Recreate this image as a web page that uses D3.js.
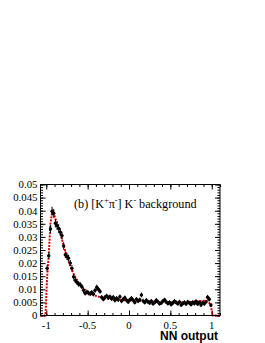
<!DOCTYPE html>
<html>
<head>
<meta charset="utf-8">
<script src="https://cdn.jsdelivr.net/npm/d3@7"></script>
<style>
  body { margin: 0; background: #fff; }
  svg { display: block; }
</style>
</head>
<body>
<div id="chart"></div>
<script>
// NN output histogram, bin width 0.02 from -1 to 1
const binLow = -1, binWidth = 0.02;

const dataValues = [
  0.0180, 0.0228, 0.0330, 0.0398, 0.0390, 0.0352, 0.0343, 0.0332, 0.0318, 0.0305,
  0.0265, 0.0232, 0.0225, 0.0219, 0.0200, 0.0180, 0.0148, 0.0135, 0.0127, 0.0120,
  0.0118, 0.0110, 0.0096, 0.0085, 0.0090, 0.0086, 0.0083, 0.0088, 0.0082, 0.0096,
  0.0108, 0.0100, 0.0092, 0.0070, 0.0062, 0.0070, 0.0075, 0.0068, 0.0072, 0.0064,
  0.0070, 0.0058, 0.0066, 0.0060, 0.0072, 0.0055, 0.0062, 0.0068, 0.0058, 0.0052,
  0.0060, 0.0066, 0.0058, 0.0050, 0.0062, 0.0055, 0.0060, 0.0078, 0.0056, 0.0050,
  0.0058, 0.0052, 0.0048, 0.0055, 0.0045, 0.0050, 0.0058, 0.0052, 0.0045, 0.0048,
  0.0055, 0.0060, 0.0052, 0.0046, 0.0050, 0.0042, 0.0048, 0.0055, 0.0050, 0.0045,
  0.0052, 0.0040, 0.0046, 0.0050, 0.0044, 0.0052, 0.0048, 0.0042, 0.0050, 0.0046,
  0.0054, 0.0044, 0.0050, 0.0040, 0.0048, 0.0045, 0.0052, 0.0070, 0.0062, 0.0040
];

const dataErrors = [
  0.0012, 0.0013, 0.0015, 0.0017, 0.0017, 0.0016, 0.0016, 0.0016, 0.0015, 0.0015,
  0.0014, 0.0013, 0.0013, 0.0013, 0.0012, 0.0012, 0.0011, 0.0011, 0.0010, 0.0010,
  0.0010, 0.0010, 0.0010, 0.0009, 0.0009, 0.0009, 0.0009, 0.0009, 0.0009, 0.0009,
  0.0010, 0.0009, 0.0009, 0.0008, 0.0008, 0.0008, 0.0008, 0.0008, 0.0008, 0.0008,
  0.0008, 0.0008, 0.0008, 0.0008, 0.0008, 0.0008, 0.0008, 0.0008, 0.0008, 0.0008,
  0.0008, 0.0008, 0.0008, 0.0008, 0.0008, 0.0008, 0.0008, 0.0009, 0.0008, 0.0008,
  0.0008, 0.0008, 0.0008, 0.0008, 0.0007, 0.0008, 0.0008, 0.0008, 0.0007, 0.0008,
  0.0008, 0.0008, 0.0008, 0.0008, 0.0008, 0.0007, 0.0008, 0.0008, 0.0008, 0.0007,
  0.0008, 0.0007, 0.0008, 0.0008, 0.0007, 0.0008, 0.0008, 0.0007, 0.0008, 0.0008,
  0.0008, 0.0007, 0.0008, 0.0007, 0.0008, 0.0008, 0.0008, 0.0009, 0.0009, 0.0007
];

// fit curve, same bins
const fitValues = [
  0.0145, 0.0232, 0.0350, 0.0393, 0.0388, 0.0370, 0.0352, 0.0333, 0.0312, 0.0290,
  0.0268, 0.0246, 0.0226, 0.0207, 0.0190, 0.0174, 0.0160, 0.0147, 0.0136, 0.0126,
  0.0117, 0.0110, 0.0103, 0.0097, 0.0092, 0.0088, 0.0084, 0.0081, 0.0078, 0.0076,
  0.0074, 0.0072, 0.0070, 0.0068, 0.0067, 0.0066, 0.0065, 0.0064, 0.0063, 0.0062,
  0.0062, 0.0061, 0.0061, 0.0060, 0.0060, 0.0059, 0.0059, 0.0058, 0.0058, 0.0058,
  0.0057, 0.0057, 0.0057, 0.0056, 0.0056, 0.0056, 0.0055, 0.0055, 0.0055, 0.0054,
  0.0054, 0.0054, 0.0054, 0.0053, 0.0053, 0.0053, 0.0053, 0.0052, 0.0052, 0.0052,
  0.0052, 0.0051, 0.0051, 0.0051, 0.0051, 0.0051, 0.0050, 0.0050, 0.0050, 0.0050,
  0.0050, 0.0050, 0.0050, 0.0050, 0.0051, 0.0051, 0.0051, 0.0052, 0.0052, 0.0053,
  0.0053, 0.0054, 0.0054, 0.0055, 0.0055, 0.0056, 0.0056, 0.0054, 0.0048, 0.0035
];

const yTicks = [0, 0.005, 0.01, 0.015, 0.02, 0.025, 0.03, 0.035, 0.04, 0.045, 0.05];
const xTicks = [-1, -0.5, 0, 0.5, 1];
const xTitle = "NN output";

const W = 265, H = 343;
const mLeft = 40.5, mRight = 220, mTop = 184.5, mBottom = 315.5;

const svg = d3.select("#chart").append("svg")
  .attr("width", W).attr("height", H);

const x = d3.scaleLinear().domain([-1.07, 1.1]).range([mLeft, mRight]);
const y = d3.scaleLinear().domain([0, 0.05]).range([mBottom, mTop]);

const centers = dataValues.map((v, i) => binLow + binWidth * (i + 0.5));

// axes (ticks inside the frame, like ROOT)
const serif = "'Liberation Serif', 'Times New Roman', serif";
const yMinor = d3.range(0, 0.0501, 0.001);
const xMinor = d3.range(-1, 1.101, 0.1);

function styleAxis(g) {
  g.select(".domain").remove();
  g.selectAll("line").attr("stroke", "#000").attr("stroke-width", 1);
}

svg.append("g").attr("transform", `translate(${mLeft},0)`)
  .call(d3.axisRight(y).tickValues(yMinor).tickSize(2.5).tickFormat(""))
  .call(styleAxis);
svg.append("g").attr("transform", `translate(${mLeft},0)`)
  .call(d3.axisRight(y).tickValues(yTicks).tickSize(5).tickFormat(""))
  .call(styleAxis);
svg.append("g").attr("transform", `translate(${mRight},0)`)
  .call(d3.axisLeft(y).tickValues(yMinor).tickSize(2.5).tickFormat(""))
  .call(styleAxis);
svg.append("g").attr("transform", `translate(${mRight},0)`)
  .call(d3.axisLeft(y).tickValues(yTicks).tickSize(5).tickFormat(""))
  .call(styleAxis);

svg.append("g").attr("transform", `translate(0,${mBottom})`)
  .call(d3.axisTop(x).tickValues(xMinor).tickSize(2.5).tickFormat(""))
  .call(styleAxis);
svg.append("g").attr("transform", `translate(0,${mBottom})`)
  .call(d3.axisTop(x).tickValues(xTicks).tickSize(5).tickFormat(""))
  .call(styleAxis);
svg.append("g").attr("transform", `translate(0,${mTop})`)
  .call(d3.axisBottom(x).tickValues(xMinor).tickSize(2.5).tickFormat(""))
  .call(styleAxis);
svg.append("g").attr("transform", `translate(0,${mTop})`)
  .call(d3.axisBottom(x).tickValues(xTicks).tickSize(5).tickFormat(""))
  .call(styleAxis);

// tick labels
svg.append("g").selectAll("text").data(yTicks).enter().append("text")
  .attr("x", mLeft - 3)
  .attr("y", d => y(d) + 3.8)
  .attr("text-anchor", "end")
  .attr("font-family", serif)
  .attr("font-size", 10.8)
  .text(d => d3.format("")(d));

svg.append("g").selectAll("text").data(xTicks).enter().append("text")
  .attr("x", d => x(d))
  .attr("y", 328.5)
  .attr("text-anchor", "middle")
  .attr("font-family", serif)
  .attr("font-size", 10.8)
  .text(d => d3.format("")(d).replace("−", "-"));

svg.append("text")
  .attr("x", 218).attr("y", 340)
  .attr("text-anchor", "end")
  .attr("font-family", "'Liberation Sans', Arial, sans-serif")
  .attr("font-weight", "bold")
  .attr("font-size", 12)
  .text(xTitle);

// fit curve (red dashed), zero outside [-1, 1]
const fitPts = [[-1.07, 0], [-1.01, 0]]
  .concat(fitValues.map((v, i) => [centers[i], v]))
  .concat([[1.01, 0], [1.1, 0]]);

svg.append("path")
  .datum(fitPts)
  .attr("fill", "none")
  .attr("stroke", "#e00000")
  .attr("stroke-width", 2)
  .attr("stroke-dasharray", "2,1.2")
  .attr("d", d3.line().x(d => x(d[0])).y(d => y(d[1])));

// data points with error bars
const pts = svg.append("g");
pts.selectAll(".err").data(dataValues).enter().append("line")
  .attr("class", "err")
  .attr("x1", (d, i) => x(centers[i])).attr("x2", (d, i) => x(centers[i]))
  .attr("y1", (d, i) => y(d - dataErrors[i]))
  .attr("y2", (d, i) => y(d + dataErrors[i]))
  .attr("stroke", "#000").attr("stroke-width", 1);
pts.selectAll(".xerr").data(dataValues).enter().append("line")
  .attr("class", "xerr")
  .attr("x1", (d, i) => x(centers[i] - binWidth / 2))
  .attr("x2", (d, i) => x(centers[i] + binWidth / 2))
  .attr("y1", d => y(d)).attr("y2", d => y(d))
  .attr("stroke", "#000").attr("stroke-width", 1);
pts.selectAll("circle").data(dataValues).enter().append("circle")
  .attr("cx", (d, i) => x(centers[i]))
  .attr("cy", d => y(d))
  .attr("r", 1.7)
  .attr("fill", "#000");

// frame
svg.append("rect")
  .attr("x", mLeft).attr("y", mTop)
  .attr("width", mRight - mLeft).attr("height", mBottom - mTop)
  .attr("fill", "none").attr("stroke", "#000").attr("stroke-width", 1);

// label
const lab = svg.append("text")
  .attr("x", 74).attr("y", 207.5)
  .attr("font-family", serif)
  .attr("font-size", 12.2);
lab.append("tspan").text("(b) [K");
lab.append("tspan").attr("dy", -4.5).attr("font-size", 8).text("+");
lab.append("tspan").attr("dy", 4.5).text("π");
lab.append("tspan").attr("dy", -4.5).attr("font-size", 8).text("-");
lab.append("tspan").attr("dy", 4.5).text("] K");
lab.append("tspan").attr("dy", -4.5).attr("font-size", 8).text("-");
lab.append("tspan").attr("dy", 4.5).text(" background");
</script>
</body>
</html>
